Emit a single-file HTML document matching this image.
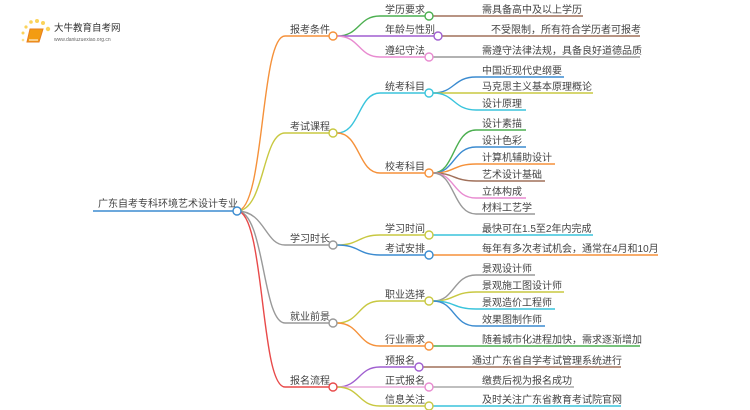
<!DOCTYPE html>
<html><head><meta charset="utf-8"><style>
body{margin:0;background:#fff}
svg{display:block}
text{font-family:"Liberation Sans","Noto Sans CJK SC",sans-serif;font-size:10px;fill:#444}
path{fill:none;stroke-width:1.4}
circle{fill:#fff;stroke-width:1.4}
</style></head><body>
<svg width="750" height="410" viewBox="0 0 750 410" xmlns="http://www.w3.org/2000/svg">
<g>
<circle cx="26" cy="27" r="1.6" style="fill:#fbd35a;stroke:none"/>
<circle cx="31" cy="22" r="1.8" style="fill:#fbd35a;stroke:none"/>
<circle cx="37" cy="21" r="2" style="fill:#fbd35a;stroke:none"/>
<circle cx="43" cy="23" r="2" style="fill:#fbd35a;stroke:none"/>
<circle cx="48" cy="29" r="2.2" style="fill:#fbd35a;stroke:none"/>
<circle cx="23" cy="33" r="1.5" style="fill:#fbd35a;stroke:none"/>
<circle cx="23" cy="40" r="1.3" style="fill:#fde08a;stroke:none"/>
<path d="M30 29 L43 29 L39 42 L27 42 Z" style="fill:#f39c12;stroke:#e67e22;stroke-width:1"/>
<path d="M29 40 L38 40" style="stroke:#fff;stroke-width:1"/>
<text x="54" y="31" style="font-size:9.5px;fill:#333">大牛教育自考网</text>
<text x="54" y="41" style="font-size:5px;fill:#666">www.daniuzuexiao.org.cn</text>
</g>
<text x="98" y="207">广东自考专科环境艺术设计专业</text>
<path d="M93 211 L233 211" stroke="#3b8bd0"/>
<path d="M237 211 C265 211,260 36,285 36 L329 36" stroke="#f5913a"/>
<path d="M237 211 C265 211,262 133,285 133 L329 133" stroke="#c8c841"/>
<path d="M237 211 C265 211,265 245,285 245 L329 245" stroke="#999"/>
<path d="M237 211 C265 211,262 323,285 323 L329 323" stroke="#999"/>
<path d="M237 211 C265 211,260 387,285 387 L329 387" stroke="#e84a4a"/>
<circle cx="237" cy="211" r="4" stroke="#3b8bd0"/>
<text x="290" y="33">报考条件</text>
<text x="290" y="130">考试课程</text>
<text x="290" y="242">学习时长</text>
<text x="290" y="320">就业前景</text>
<text x="290" y="384">报名流程</text>
<path d="M337 36 C360 36,358 16,380 16 L425 16" stroke="#4caf50"/>
<path d="M337 36 L434 36" stroke="#a05fd0"/>
<path d="M337 36 C360 36,358 57,380 57 L425 57" stroke="#e88bd0"/>
<path d="M337 133 C360 133,358 93,380 93 L425 93" stroke="#3ac4dc"/>
<path d="M337 133 C360 133,358 173,380 173 L425 173" stroke="#f5913a"/>
<path d="M337 245 C360 245,358 235,380 235 L425 235" stroke="#c8c841"/>
<path d="M337 245 C360 245,358 255,380 255 L425 255" stroke="#3b8bd0"/>
<path d="M337 323 C360 323,358 301,380 301 L425 301" stroke="#c8c841"/>
<path d="M337 323 C360 323,358 346,380 346 L425 346" stroke="#f5913a"/>
<path d="M337 387 C360 387,358 367,380 367 L415 367" stroke="#a05fd0"/>
<path d="M337 387 L425 387" stroke="#e8a8d8"/>
<path d="M337 387 C360 387,358 406,380 406 L425 406" stroke="#c8c841"/>
<circle cx="333" cy="36" r="4" stroke="#f5913a"/>
<circle cx="333" cy="133" r="4" stroke="#c8c841"/>
<circle cx="333" cy="245" r="4" stroke="#999"/>
<circle cx="333" cy="323" r="4" stroke="#999"/>
<circle cx="333" cy="387" r="4" stroke="#e84a4a"/>
<text x="385" y="13">学历要求</text>
<text x="385" y="33">年龄与性别</text>
<text x="385" y="54">遵纪守法</text>
<text x="385" y="90">统考科目</text>
<text x="385" y="170">校考科目</text>
<text x="385" y="232">学习时间</text>
<text x="385" y="252">考试安排</text>
<text x="385" y="298">职业选择</text>
<text x="385" y="343">行业需求</text>
<text x="385" y="364">预报名</text>
<text x="385" y="384">正式报名</text>
<text x="385" y="403">信息关注</text>
<path d="M433 16 L583 16" stroke="#a0705a"/>
<path d="M442 36 L640 36" stroke="#a0705a"/>
<path d="M433 57 L640 57" stroke="#999"/>
<path d="M433 93 C455 93,453 77,476 77 L564 77" stroke="#3b8bd0"/>
<path d="M433 93 L593 93" stroke="#c8c841"/>
<path d="M433 93 C455 93,453 110,476 110 L526 110" stroke="#3ac4dc"/>
<path d="M433 173 C455 173,453 130,476 130 L526 130" stroke="#4caf50"/>
<path d="M433 173 C455 173,453 147,476 147 L526 147" stroke="#3b8bd0"/>
<path d="M433 173 C455 173,453 164,476 164 L555 164" stroke="#f5913a"/>
<path d="M433 173 C455 173,453 181,476 181 L545 181" stroke="#a0705a"/>
<path d="M433 173 C455 173,453 198,476 198 L526 198" stroke="#e88bd0"/>
<path d="M433 173 C455 173,453 214,476 214 L535 214" stroke="#999"/>
<path d="M433 235 L593 235" stroke="#3ac4dc"/>
<path d="M433 255 L658 255" stroke="#f5913a"/>
<path d="M433 301 C455 301,453 275,476 275 L535 275" stroke="#999"/>
<path d="M433 301 C455 301,453 292,476 292 L564 292" stroke="#c8c841"/>
<path d="M433 301 C455 301,453 309,476 309 L555 309" stroke="#3ac4dc"/>
<path d="M433 301 C455 301,453 326,476 326 L545 326" stroke="#3b8bd0"/>
<path d="M433 346 L640 346" stroke="#4caf50"/>
<path d="M423 367 L621 367" stroke="#a0705a"/>
<path d="M433 387 L574 387" stroke="#aaa"/>
<path d="M433 406 L621 406" stroke="#3ac4dc"/>
<circle cx="429" cy="16" r="4" stroke="#4caf50"/>
<circle cx="438" cy="36" r="4" stroke="#a05fd0"/>
<circle cx="429" cy="57" r="4" stroke="#e88bd0"/>
<circle cx="429" cy="93" r="4" stroke="#3ac4dc"/>
<circle cx="429" cy="173" r="4" stroke="#f5913a"/>
<circle cx="429" cy="235" r="4" stroke="#c8c841"/>
<circle cx="429" cy="255" r="4" stroke="#3b8bd0"/>
<circle cx="429" cy="301" r="4" stroke="#c8c841"/>
<circle cx="429" cy="346" r="4" stroke="#f5913a"/>
<circle cx="419" cy="367" r="4" stroke="#a05fd0"/>
<circle cx="429" cy="387" r="4" stroke="#e88bd0"/>
<circle cx="429" cy="406" r="4" stroke="#c8c841"/>
<text x="482" y="13">需具备高中及以上学历</text>
<text x="491" y="33">不受限制，所有符合学历者可报考</text>
<text x="482" y="54">需遵守法律法规，具备良好道德品质</text>
<text x="482" y="74">中国近现代史纲要</text>
<text x="482" y="90">马克思主义基本原理概论</text>
<text x="482" y="107">设计原理</text>
<text x="482" y="127">设计素描</text>
<text x="482" y="144">设计色彩</text>
<text x="482" y="161">计算机辅助设计</text>
<text x="482" y="178">艺术设计基础</text>
<text x="482" y="195">立体构成</text>
<text x="482" y="211">材料工艺学</text>
<text x="482" y="232">最快可在1.5至2年内完成</text>
<text x="482" y="252">每年有多次考试机会，通常在4月和10月</text>
<text x="482" y="272">景观设计师</text>
<text x="482" y="289">景观施工图设计师</text>
<text x="482" y="306">景观造价工程师</text>
<text x="482" y="323">效果图制作师</text>
<text x="482" y="343">随着城市化进程加快，需求逐渐增加</text>
<text x="472" y="364">通过广东省自学考试管理系统进行</text>
<text x="482" y="384">缴费后视为报名成功</text>
<text x="482" y="403">及时关注广东省教育考试院官网</text>
</svg>
</body></html>
